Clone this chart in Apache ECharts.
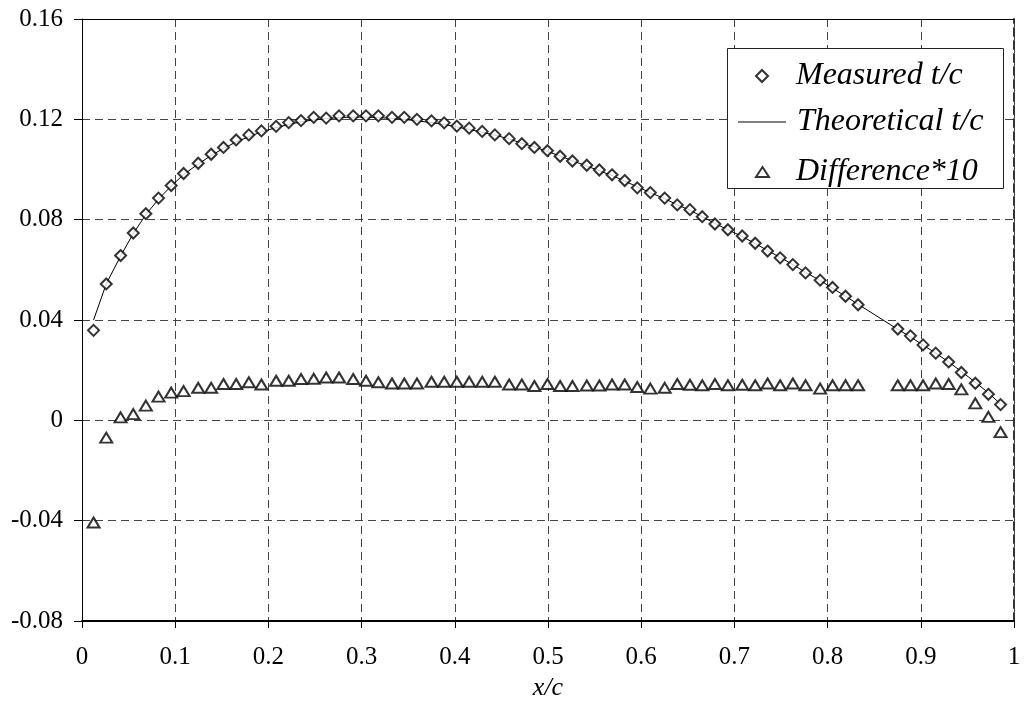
<!DOCTYPE html>
<html>
<head>
<meta charset="utf-8">
<script src="https://cdn.jsdelivr.net/npm/echarts@6/dist/echarts.min.js"></script>
<style>
html,body{margin:0;padding:0;background:#fff;}
#chart{width:1026px;height:706px;}
</style>
</head>
<body>
<div id="chart"></div>
<script>
// x/c stations
const xPos = [0.0124,0.0260,0.0414,0.0550,0.0685,0.0821,0.0957,0.1090,0.1247,0.1386,
  0.1518,0.1654,0.1790,0.1925,0.2083,0.2218,0.2350,0.2486,0.2620,0.2758,
  0.2910,0.3047,0.3180,0.3326,0.3458,0.3594,0.3750,0.3886,0.4022,0.4154,
  0.4294,0.4430,0.4583,0.4719,0.4854,0.4994,0.5130,0.5262,0.5416,0.5551,
  0.5687,0.5823,0.5958,0.6098,0.6252,0.6387,0.6523,0.6655,0.6791,0.6930,
  0.7084,0.7223,0.7356,0.7491,0.7627,0.7763,0.7920,0.8053,0.8192,0.8327,
  0.8753,0.8889,0.9024,0.9160,0.9299,0.9435,0.9585,0.9725,0.9856];
// Measured t/c
const measured = [0.0359,0.0544,0.0657,0.0747,0.0824,0.0886,0.0936,0.0984,0.1025,0.1061,
  0.1088,0.1118,0.1138,0.1154,0.1172,0.1187,0.1195,0.1208,0.1205,0.1214,
  0.1214,0.1214,0.1214,0.1208,0.1208,0.1200,0.1194,0.1186,0.1173,0.1165,
  0.1152,0.1138,0.1123,0.1103,0.1088,0.1075,0.1053,0.1034,0.1017,0.0998,
  0.0979,0.0956,0.0927,0.0908,0.0886,0.0859,0.0840,0.0812,0.0783,0.0760,
  0.0735,0.0706,0.0675,0.0648,0.0621,0.0588,0.0559,0.0530,0.0495,0.0461,
  0.0364,0.0337,0.0301,0.0268,0.0233,0.0191,0.0148,0.0104,0.0063];
// Theoretical t/c
const theoretical = [0.0400,0.0544,0.0655,0.0745,0.0820,0.0882,0.0934,0.0980,0.1022,0.1056,
  0.1084,0.1110,0.1131,0.1150,0.1167,0.1180,0.1190,0.1198,0.1203,0.1207,
  0.1209,0.1209,0.1207,0.1204,0.1200,0.1194,0.1187,0.1179,0.1170,0.1160,
  0.1149,0.1137,0.1122,0.1105,0.1090,0.1072,0.1054,0.1035,0.1014,0.0995,
  0.0976,0.0954,0.0931,0.0908,0.0884,0.0859,0.0838,0.0812,0.0785,0.0760,
  0.0733,0.0705,0.0677,0.0650,0.0621,0.0590,0.0558,0.0527,0.0495,0.0463,
  0.0363,0.0333,0.0300,0.0268,0.0233,0.0195,0.0152,0.0110,0.0065];
// Difference*10
const difference = [-0.0407,-0.0069,0.0012,0.0025,0.0059,0.0095,0.0111,0.0117,0.0130,0.0130,
  0.0145,0.0145,0.0152,0.0143,0.0158,0.0158,0.0165,0.0166,0.0171,0.0171,
  0.0165,0.0158,0.0152,0.0147,0.0147,0.0147,0.0154,0.0154,0.0154,0.0154,
  0.0154,0.0154,0.0143,0.0143,0.0137,0.0145,0.0137,0.0137,0.0139,0.0139,
  0.0143,0.0143,0.0133,0.0127,0.0130,0.0145,0.0142,0.0140,0.0145,0.0140,
  0.0142,0.0140,0.0147,0.0140,0.0147,0.0140,0.0127,0.0140,0.0140,0.0140,
  0.0140,0.0140,0.0140,0.0147,0.0145,0.0124,0.0068,0.0014,-0.0047];

const names = ['Measured t/c','Theoretical t/c','Difference*10'];
const pair = arr => arr.map((v,i)=>[xPos[i], v]);

const FONT = "'Liberation Serif','Times New Roman',serif";
const gridDash = {color:'#444', width:1, type:[8,5]};
const legendText = pad => ({fontFamily:FONT, fontStyle:'italic', fontSize:32, lineHeight:32, color:'#000', padding:pad});

const chart = echarts.init(document.getElementById('chart'), null, {renderer:'canvas'});
chart.setOption({
  animation:false,
  backgroundColor:'#fff',
  grid:{left:82, right:12, top:19, bottom:66, containLabel:false},
  graphic:[{
    type:'rect', z:3,
    shape:{x:727.5, y:48.5, width:276, height:140},
    style:{fill:'#fff', stroke:'#222', lineWidth:1}
  }],
  legend:[{
    data:[{name:names[0], icon:'diamond'}],
    left:755, top:60, padding:0, z:5,
    itemWidth:12, itemHeight:12,
    itemStyle:{color:'#fff', borderColor:'#000', borderWidth:2},
    textStyle:legendText([0,0,0,23])
  },{
    data:[{name:names[1], icon:'rect'}],
    left:738, top:106, padding:0, z:5,
    itemWidth:48, itemHeight:1,
    itemStyle:{color:'#000', borderWidth:0},
    textStyle:legendText([0,0,0,6])
  },{
    data:[{name:names[2], icon:'triangle'}],
    left:755, top:152, padding:0, z:5,
    itemWidth:13, itemHeight:10,
    itemStyle:{color:'#fff', borderColor:'#000', borderWidth:2},
    textStyle:legendText([0,0,8,22])
  }],
  xAxis:[{
    type:'value', min:0, max:1, interval:0.1,
    name:'x/c', nameLocation:'middle', nameGap:36,
    nameTextStyle:{fontFamily:FONT, fontStyle:'italic', fontSize:26, color:'#000'},
    axisLine:{show:true, onZero:false, lineStyle:{color:'#000', width:2}},
    axisTick:{show:true, inside:false, length:7, lineStyle:{color:'#000'}},
    axisLabel:{fontFamily:FONT, fontSize:25, color:'#000', margin:24},
    splitLine:{show:true, lineStyle:gridDash}
  },{
    type:'value', min:0, max:1, position:'top',
    axisLine:{show:true, onZero:false, lineStyle:{color:'#000', width:1}},
    axisTick:{show:false}, axisLabel:{show:false}, splitLine:{show:false}
  }],
  yAxis:[{
    type:'value', min:-0.08, max:0.16, interval:0.04,
    axisLine:{show:true, onZero:false, lineStyle:{color:'#000', width:1}},
    axisTick:{show:true, inside:false, length:8, lineStyle:{color:'#000'}},
    axisLabel:{fontFamily:FONT, fontSize:25, color:'#000', margin:19},
    splitLine:{show:true, lineStyle:gridDash}
  },{
    type:'value', min:-0.08, max:0.16, interval:0.04, position:'right',
    axisLine:{show:true, onZero:false, lineStyle:{color:'#333', width:2, type:[8,5]}},
    axisTick:{show:false}, axisLabel:{show:false}, splitLine:{show:false}
  }],
  series:[{
    name:names[1], type:'line', data:pair(theoretical),
    symbol:'none', smooth:false, z:2,
    lineStyle:{color:'#000', width:1}, itemStyle:{color:'#000'}
  },{
    name:names[0], type:'scatter', data:pair(measured),
    symbol:'diamond', symbolSize:11, z:3,
    itemStyle:{color:'#fff', borderColor:'#000', borderWidth:2}
  },{
    name:names[2], type:'scatter', data:pair(difference),
    symbol:'triangle', symbolSize:[12,10], z:3,
    itemStyle:{color:'#fff', borderColor:'#000', borderWidth:2}
  }]
});
</script>
</body>
</html>
